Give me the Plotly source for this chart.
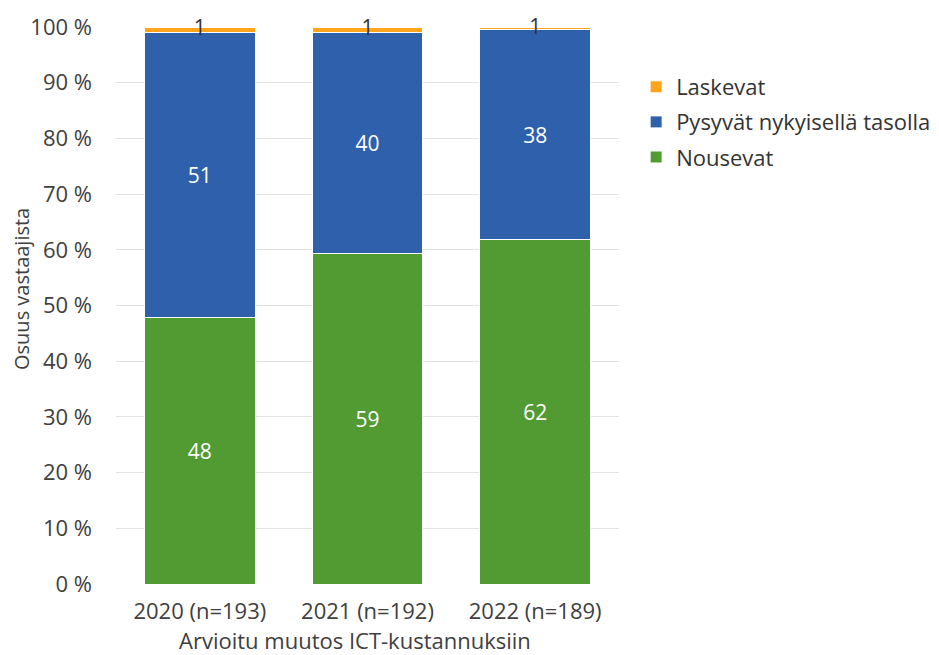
import plotly.graph_objects as go

categories = ["2020 (n=193)", "2021 (n=192)", "2022 (n=189)"]
nousevat = [47.8, 59.4, 61.9]
pysyvat = [51.3, 39.7, 37.6]
laskevat = [0.9, 0.9, 0.5]
nousevat_labels = ["48", "59", "62"]
pysyvat_labels = ["51", "40", "38"]
laskevat_labels = ["1", "1", "1"]

FONT = "Open Sans"
FS = 21
txt = "#404040"

fig = go.Figure()
fig.add_trace(go.Bar(name="Nousevat", x=categories, y=nousevat, legendgroup="a", legendrank=3,
                     marker=dict(color="#529B32", line=dict(color="white", width=1)),
                     text=nousevat_labels, textposition="inside", insidetextanchor="middle",
                     textfont=dict(color="white", size=FS, family=FONT)))
fig.add_trace(go.Bar(name="Pysyvät nykyisellä tasolla", x=categories, y=pysyvat, legendgroup="b", legendrank=2,
                     marker=dict(color="#2E60AB", line=dict(color="white", width=1)),
                     text=pysyvat_labels, textposition="inside", insidetextanchor="middle",
                     textfont=dict(color="white", size=FS, family=FONT)))
fig.add_trace(go.Bar(name="Laskevat", x=categories, y=laskevat, legendgroup="c", legendrank=1,
                     marker=dict(color="#FFA41B", line=dict(color="white", width=1)),
                     textposition="none"))
tops = [a + b + c / 2 for a, b, c in zip(nousevat, pysyvat, laskevat)]
fig.add_trace(go.Scatter(x=categories, y=tops, mode="text", text=laskevat_labels, showlegend=False, cliponaxis=False,
                         textfont=dict(color="#333333", size=FS, family=FONT), hoverinfo="skip"))

fig.update_layout(
    width=939, height=655, barmode="stack", bargap=0.34,
    plot_bgcolor="white", paper_bgcolor="white",
    margin=dict(l=108, r=327, t=19, b=79),
    font=dict(family=FONT, size=FS, color=txt),
    legend=dict(x=1.032, y=0.93, xanchor="left", yanchor="top", traceorder="grouped",
                font=dict(size=22, color="#333333"), itemwidth=30, tracegroupgap=3.5),
    yaxis=dict(range=[0, 100], dtick=10, ticksuffix=" %", showgrid=True, gridcolor="#E3E3E3",
               zeroline=False, ticks="", automargin=False, ticklabelstandoff=23,
               tickfont=dict(size=22, color=txt)),
    xaxis=dict(showline=False, ticks="", automargin=False, ticklabelstandoff=12,
               tickfont=dict(size=22, color=txt)),
    annotations=[
        dict(text="Osuus vastaajista", xref="paper", yref="paper", x=-0.1865, y=0.53,
             xanchor="center", yanchor="middle", textangle=-90, showarrow=False,
             font=dict(size=20, color=txt, family=FONT)),
        dict(text="Arvioitu muutos ICT-kustannuksiin", xref="paper", yref="paper", x=0.475, y=-0.1014,
             xanchor="center", yanchor="middle", showarrow=False,
             font=dict(size=22, color=txt, family=FONT)),
    ],
)
fig.write_html("out.html")
